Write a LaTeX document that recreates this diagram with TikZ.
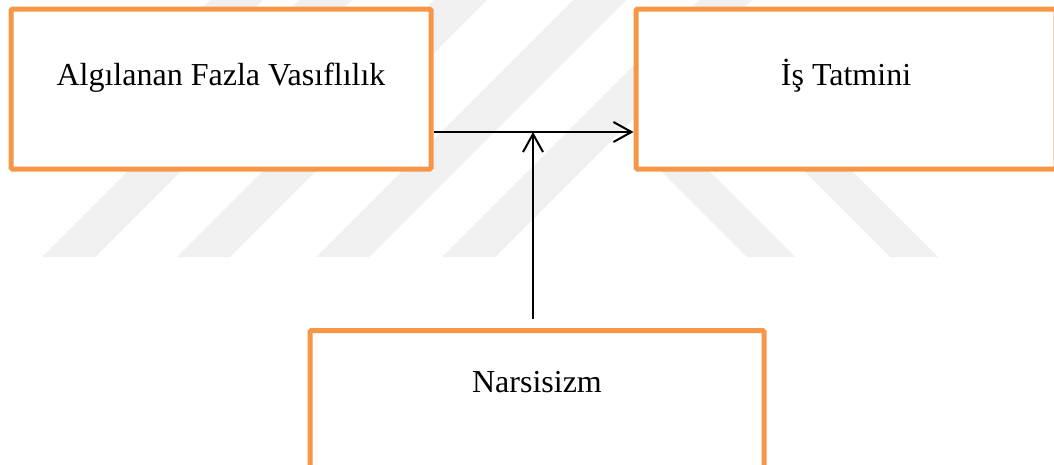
\documentclass[tikz,border=0pt]{standalone}
\usepackage{fontspec}
\setmainfont{Liberation Serif}
\usetikzlibrary{arrows.meta}
\definecolor{boxorange}{RGB}{247,150,70}
\definecolor{stripegray}{RGB}{240,240,240}
\begin{document}
\begin{tikzpicture}[x=1pt,y=-1pt,
  box/.style={draw=boxorange, line width=5pt, fill=white, rounded corners=1.5pt,
              inner sep=0pt, minimum height=160pt},
  lbl/.style={font=\fontsize{32}{38}\selectfont, anchor=base, inner sep=0pt},
  link/.style={line width=2pt, -{Straight Barb[length=18pt,width=20pt,line width=2pt]}},
  stripe/.style={fill=stripegray, draw=none}]
\useasboundingbox (0,0) rectangle (1054,464);
\clip (0,0) rectangle (1054,464);

% faint diagonal background stripes
\foreach \xl in {42,177,316,442}
  \fill[stripe] (\xl,257) -- ++(53,0) -- ++(257,-257) -- ++(-53,0) -- cycle;
\fill[stripe] (45,165) -- (98,165) -- (263,0) -- (210,0) -- cycle;
\foreach \xl in {650,793}
  \fill[stripe] (\xl,160) -- ++(48,0) -- ++(97,97) -- ++(-48,0) -- cycle;

% boxes
\node[box, minimum width=420pt] (perc) at (221,89) {};
\node[box, minimum width=420pt] (sat)  at (846,89) {};
\node[box, minimum width=454pt] (narc) at (537,410.5) {};

% labels
\node[lbl] (percT) at (221,85) {Algılanan Fazla Vasıflılık};
\node[lbl] (satT)  at (846,85) {İş Tatmini};
\node[lbl] (narcT) at (537,392) {Narsisizm};

% connectors
\coordinate (join) at (533,132);
\draw[link] (perc.east |- join) -- (sat.west |- join);
\draw[link, shorten <=9pt] (narc.north -| join) -- (join);
\end{tikzpicture}
\end{document}
